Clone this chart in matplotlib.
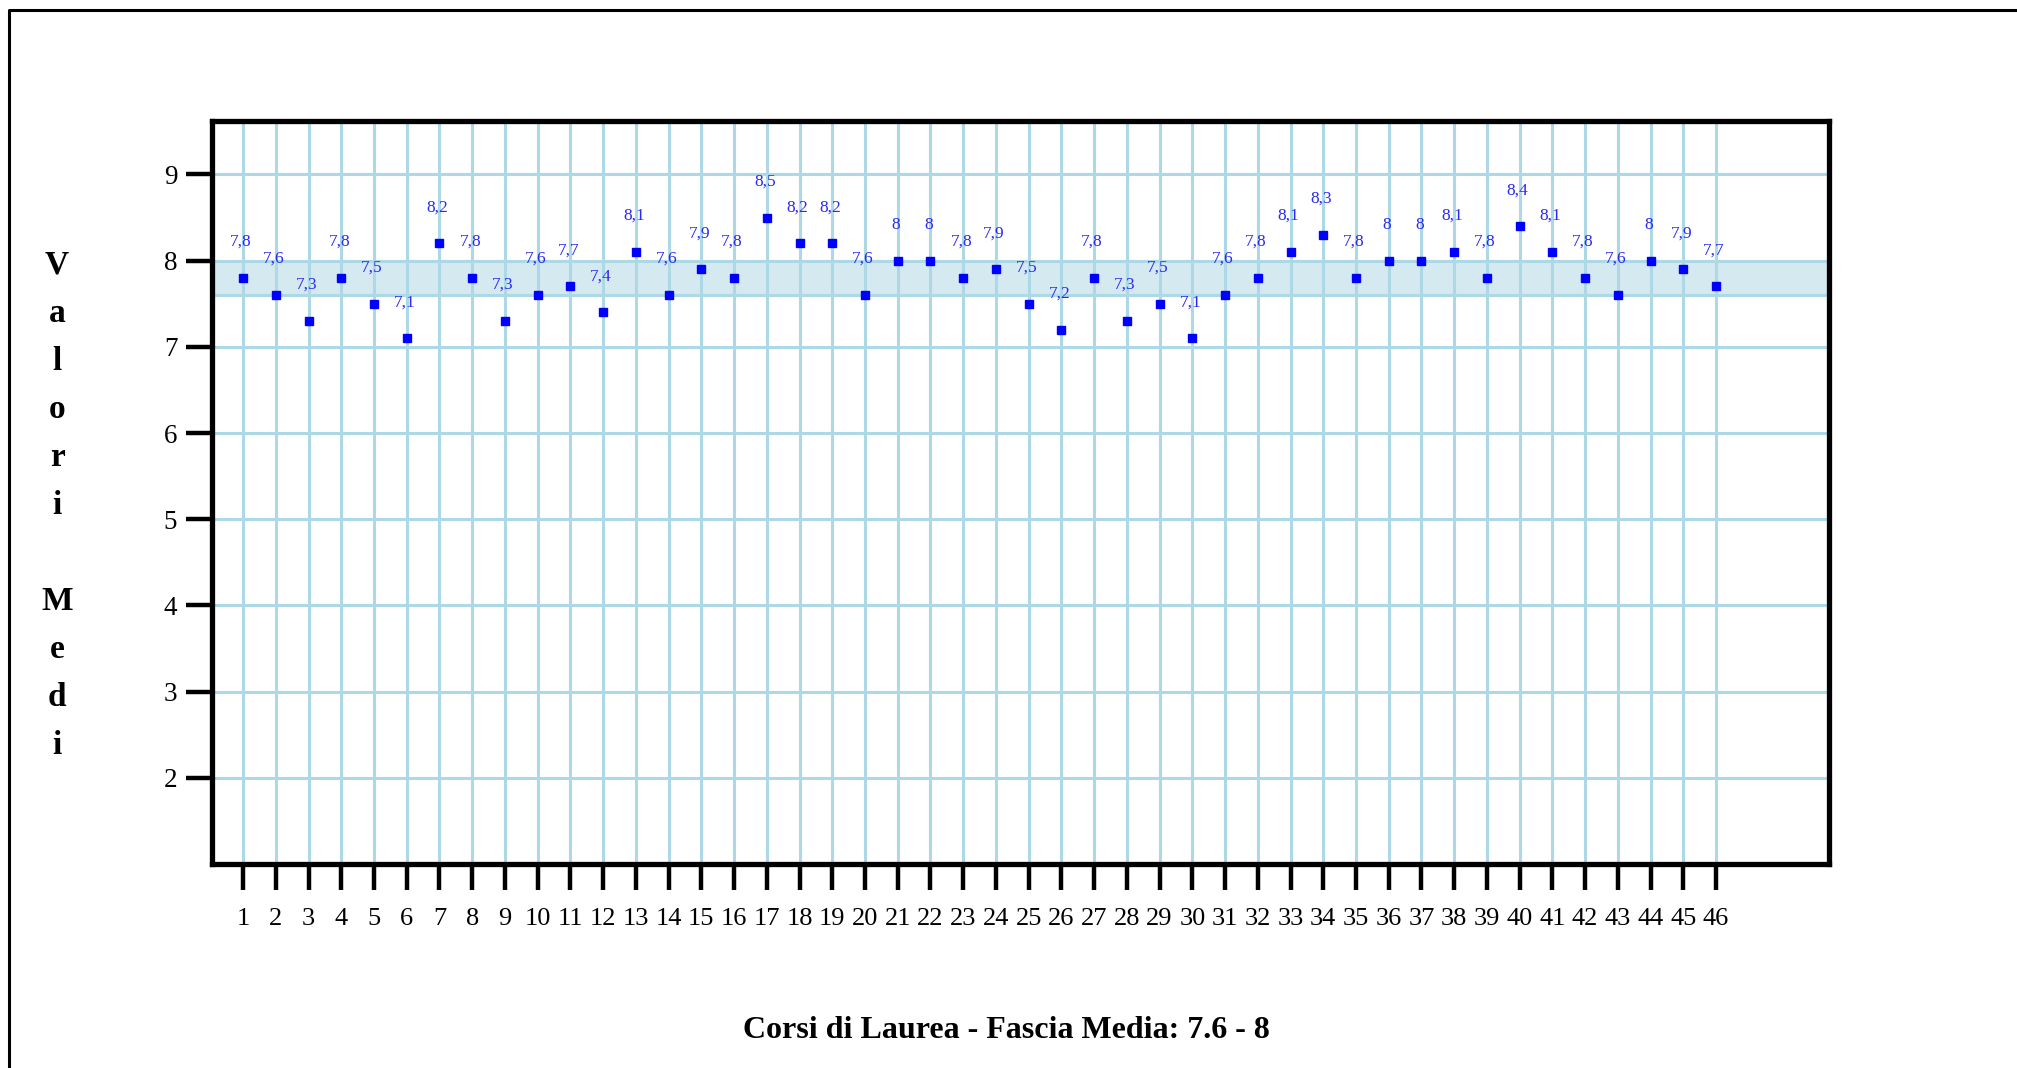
import matplotlib
matplotlib.use("Agg")
import matplotlib.pyplot as plt
from matplotlib.lines import Line2D
import numpy as np

# -----------------------------
#  Data
# -----------------------------
corsi = list(range(1, 47))
valori = [7.8, 7.6, 7.3, 7.8, 7.5, 7.1, 8.2, 7.8, 7.3, 7.6,
          7.7, 7.4, 8.1, 7.6, 7.9, 7.8, 8.5, 8.2, 8.2, 7.6,
          8.0, 8.0, 7.8, 7.9, 7.5, 7.2, 7.8, 7.3, 7.5, 7.1,
          7.6, 7.8, 8.1, 8.3, 7.8, 8.0, 8.0, 8.1, 7.8, 8.4,
          8.1, 7.8, 7.6, 8.0, 7.9, 7.7]
fascia = (7.6, 8.0)
y_ticks = [2, 3, 4, 5, 6, 7, 8, 9]

W, H = 2017, 1068
GRID = '#add8e6'
BAND = '#d5e9f1'
SERIF = 'Liberation Serif'

fig = plt.figure(figsize=(W / 100, H / 100), dpi=100)
ax = fig.add_axes([212 / W, 1 - 864 / H, (1829 - 212) / W, (864 - 121) / H])

# fascia media band
ax.axhspan(fascia[0], fascia[1], color=BAND, zorder=0, lw=0)
ax.axhline(fascia[0], color=GRID, lw=2.2, zorder=1)

ax.set_xlim(0.05, 49.45)
ax.set_ylim(1.0, 9.62)
ax.set_xticks(corsi)
ax.set_xticklabels([str(c) for c in corsi], fontsize=19, family=SERIF)
ax.set_yticks(y_ticks)
ax.set_yticklabels([str(t) for t in y_ticks], fontsize=19.5, family=SERIF)
ax.grid(True, color=GRID, lw=2.2, zorder=1)
ax.set_axisbelow(True)

ax.tick_params(axis='x', length=19, width=3.2, pad=13, color='black')
ax.tick_params(axis='y', length=19, width=3.2, pad=6, color='black')
for s in ax.spines.values():
    s.set_linewidth(3.8)
    s.set_zorder(5)

ax.plot(corsi, valori, linestyle='none', marker='s', markersize=6,
        color='#0000ff', zorder=4)

for c, v in zip(corsi, valori):
    lbl = f"{v:g}".replace('.', ',')
    ax.annotate(lbl, (c, v), xytext=(-2, 36), textcoords='offset pixels',
                ha='center', va='center', fontsize=12.5, family=SERIF,
                color='#2a2af0', zorder=6)

# vertical y label, one letter per line
label = "Valori Medi"
for i, ch in enumerate(label):
    if ch == ' ':
        continue
    fig.text(57 / W, 1 - (265 + i * 48) / H, ch, ha='center', va='center',
             fontsize=24, fontweight='bold', family=SERIF)

fig.text(1006 / W, 1 - 1031 / H, "Corsi di Laurea - Fascia Media: 7.6 - 8",
         ha='center', va='center', fontsize=23, fontweight='bold', family=SERIF)

# outer frame (left and top visible)
fig.add_artist(Line2D([9 / W, 9 / W, 1.0], [0.0, 1 - 10 / H, 1 - 10 / H],
                      transform=fig.transFigure, color='black', lw=2.2))

plt.savefig("out.png", dpi=100)
plt.close()
